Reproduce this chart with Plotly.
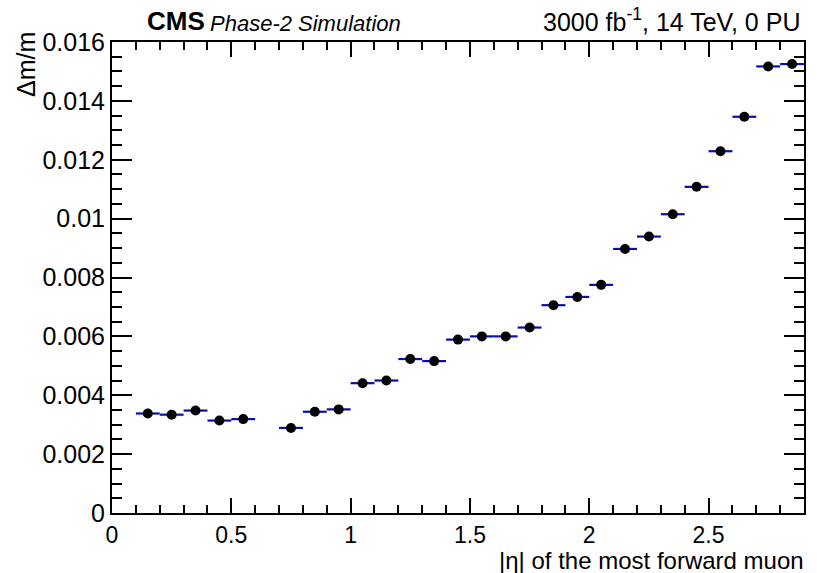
import plotly.graph_objects as go

# |eta| bin centres of the most forward muon (bin width 0.1; 0.6-0.7 is empty)
eta_centres = [0.15, 0.25, 0.35, 0.45, 0.55,
               0.75, 0.85, 0.95, 1.05, 1.15, 1.25, 1.35, 1.45, 1.55, 1.65,
               1.75, 1.85, 1.95, 2.05, 2.15, 2.25, 2.35, 2.45, 2.55, 2.65,
               2.75, 2.85]
bin_half_width = [0.05] * len(eta_centres)

# Relative dimuon mass resolution per bin
mass_resolution = [0.00338, 0.00334, 0.00348, 0.00314, 0.00319,
                   0.00289, 0.00344, 0.00352, 0.00441, 0.00450, 0.00523,
                   0.00516, 0.00589, 0.00600, 0.00600, 0.00630, 0.00706,
                   0.00734, 0.00775, 0.00897, 0.00939, 0.01015, 0.01108,
                   0.01229, 0.01346, 0.01517, 0.01525]
resolution_err = [0.00005, 0.00005, 0.00005, 0.00005, 0.00005,
                  0.00005, 0.00005, 0.00005, 0.00015, 0.00005, 0.00012,
                  0.00005, 0.00005, 0.00005, 0.00005, 0.00005, 0.00005,
                  0.00005, 0.00005, 0.00005, 0.00005, 0.00005, 0.00005,
                  0.00005, 0.00005, 0.00005, 0.00012]

x_tick_vals = [0, 0.5, 1, 1.5, 2, 2.5]
x_tick_text = ["0", "0.5", "1", "1.5", "2", "2.5"]
y_tick_vals = [0, 0.002, 0.004, 0.006, 0.008, 0.010, 0.012, 0.014, 0.016]
y_tick_text = ["0", "0.002", "0.004", "0.006", "0.008", "0.01",
               "0.012", "0.014", "0.016"]

FONT = "Liberation Sans, Arial, Helvetica, sans-serif"
BAR_BLUE = "#0c0ca8"

fig = go.Figure()
fig.add_trace(go.Scatter(
    x=eta_centres,
    y=mass_resolution,
    mode="markers",
    marker=dict(color="black", size=10, symbol="circle"),
    error_x=dict(type="data", array=bin_half_width, color=BAR_BLUE,
                 thickness=2.2, width=0),
    error_y=dict(type="data", array=resolution_err, color=BAR_BLUE,
                 thickness=2.2, width=0),
    showlegend=False,
))

fig.update_layout(
    width=817, height=573,
    margin=dict(l=112, r=11, t=42, b=60),
    paper_bgcolor="white", plot_bgcolor="white",
    font=dict(family=FONT, color="black", size=22),
    xaxis=dict(
        range=[0, 2.9], showgrid=False, zeroline=False,
        showline=True, linecolor="black", linewidth=2, mirror="allticks",
        ticks="inside", ticklen=15, tickwidth=2, tickcolor="black",
        tickvals=x_tick_vals, ticktext=x_tick_text,
        tickfont=dict(size=23),
        minor=dict(dtick=0.1, tick0=0, ticks="inside", ticklen=8,
                   tickwidth=2, tickcolor="black", showgrid=False),
    ),
    yaxis=dict(
        range=[0, 0.016], showgrid=False, zeroline=False,
        showline=True, linecolor="black", linewidth=2, mirror="allticks",
        ticks="inside", ticklen=20, tickwidth=2, tickcolor="black",
        tickvals=y_tick_vals, ticktext=y_tick_text,
        tickfont=dict(size=25),
        minor=dict(dtick=0.0005, tick0=0, ticks="inside", ticklen=10,
                   tickwidth=2, tickcolor="black", showgrid=False),
    ),
    annotations=[
        dict(text="|η| of the most forward muon", xref="paper", yref="paper",
             x=1.003, y=-0.069, xanchor="right", yanchor="top",
             showarrow=False, font=dict(size=24)),
        dict(text="Δm/m", xref="paper", yref="paper", textangle=-90,
             x=-0.124, y=1.025, xanchor="center", yanchor="top",
             showarrow=False, font=dict(size=25)),
        dict(text="<b>CMS</b>", xref="paper", yref="paper",
             x=0.048, y=1.008, xanchor="left", yanchor="bottom",
             showarrow=False, font=dict(size=26)),
        dict(text="<i>Phase-2 Simulation</i>", xref="paper", yref="paper",
             x=0.139, y=1.008, xanchor="left", yanchor="bottom",
             showarrow=False, font=dict(size=22)),
        dict(text="3000 fb<sup>-1</sup>, 14 TeV, 0 PU", xref="paper",
             yref="paper", x=0.997, y=1.008, xanchor="right",
             yanchor="bottom", showarrow=False, font=dict(size=25)),
    ],
)

fig.write_html("out.html")
